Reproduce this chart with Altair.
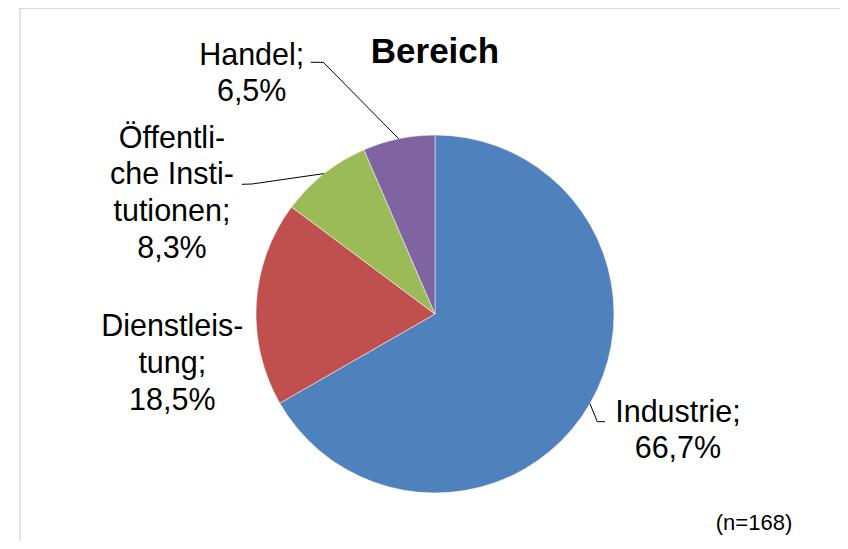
import math
import altair as alt
import pandas as pd

# ---- data ----
categories = ["Industrie", "Dienstleistung", "Öffentliche Institutionen", "Handel"]
label_lines = [["Industrie;"], ["Dienstleis-", "tung;"], ["Öffentli-", "che Insti-", "tutionen;"], ["Handel;"]]
percent = [66.7, 18.5, 8.3, 6.5]
n_total = 168
title_text = "Bereich"

# ---- styles / layout ----
colors = ["#4F81BD", "#C0504D", "#9BBB59", "#8064A2"]
FONT = "Liberation Sans"
W, H = 800, 440
R = 179
label_offsets = {  # dx, dy of each label block from the slice's mid point on the rim
    "Industrie": (88, 18),
    "Dienstleistung": (-84, 33),
    "Öffentliche Institutionen": (-152, -26),
    "Handel": (-147, -74),
}
leader_bends = {  # elbow and end point of each leader line (view px)
    "Industrie": [(562.3, 327.7), (570.0, 327.7)],
    "Öffentliche Institutionen": [(217.0, 90.0), (206.7, 90.3)],
    "Handel": [(288.3, -31.7), (275.7, -31.7)],
}

total = sum(percent)
mids, acc = [], 0.0
for v in percent:
    mids.append(acc + v / 2)
    acc += v


def fmt(v):
    return f"{v:.1f}".replace(".", ",") + "%"


labels = ["\n".join(lines + [fmt(v)]) for lines, v in zip(label_lines, percent)]
df = pd.DataFrame({
    "category": categories,
    "value": percent,
    "order": list(range(len(categories))),
    "mid": mids,
    "label": labels,
})

rows = []
for cat, mid in zip(categories, mids):
    if cat not in leader_bends:
        continue
    a = 2 * math.pi * mid / total
    rows.append({"category": cat, "pt": 0, "x": W / 2 + R * math.sin(a), "y": H / 2 - R * math.cos(a)})
    for i, (bx, by) in enumerate(leader_bends[cat], start=1):
        rows.append({"category": cat, "pt": i, "x": bx, "y": by})
leader_df = pd.DataFrame(rows)

one = pd.DataFrame({"a": [0]})
theta_scale = alt.Scale(domain=[0, total])

frame_left = alt.Chart(one).mark_rule(color="#d9d9d9", strokeWidth=1.5).encode(
    x=alt.value(-15), y=alt.value(-90), y2=alt.value(H + 30))
frame_top = alt.Chart(one).mark_rule(color="#d9d9d9", strokeWidth=2).encode(
    x=alt.value(-15.75), x2=alt.value(W + 30), y=alt.value(-86))

base = alt.Chart(df)
pie = base.mark_arc(outerRadius=R, stroke="white", strokeWidth=0.5).encode(
    theta=alt.Theta("value:Q", stack=True, scale=theta_scale),
    color=alt.Color("category:N", scale=alt.Scale(domain=categories, range=colors), legend=None),
    order=alt.Order("order:Q"),
)

leaders = alt.Chart(leader_df).mark_line(color="black", strokeWidth=1).encode(
    x=alt.X("x:Q", scale=None, axis=None),
    y=alt.Y("y:Q", scale=None, axis=None),
    detail="category:N",
    order="pt:Q",
)

texts = []
for cat, (dx, dy) in label_offsets.items():
    texts.append(
        base.transform_filter(alt.datum.category == cat).mark_text(
            radius=R, dx=dx, dy=dy, font=FONT, fontSize=30.5, lineHeight=36.7,
            lineBreak="\n", align="center", baseline="alphabetic", color="black",
        ).encode(theta=alt.Theta("mid:Q", scale=theta_scale), text="label:N")
    )

title = alt.Chart(one).mark_text(
    text=title_text, font=FONT, fontSize=35, fontWeight="bold", align="center",
    baseline="alphabetic", color="black",
).encode(x=alt.value(400), y=alt.value(-30.7))

note = alt.Chart(one).mark_text(
    text=f"(n={n_total})", font=FONT, fontSize=22, align="center", baseline="alphabetic", color="black"
).encode(x=alt.value(719), y=alt.value(436))

chart = alt.layer(frame_left, frame_top, pie, leaders, *texts, title, note).properties(
    width=W,
    height=H,
    padding={"left": 27, "top": 86, "right": 5, "bottom": 7},
    autosize=alt.AutoSizeParams(type="none"),
).configure_view(strokeWidth=0)

chart.save("out.html", embed_options={"renderer": "svg", "actions": False})
